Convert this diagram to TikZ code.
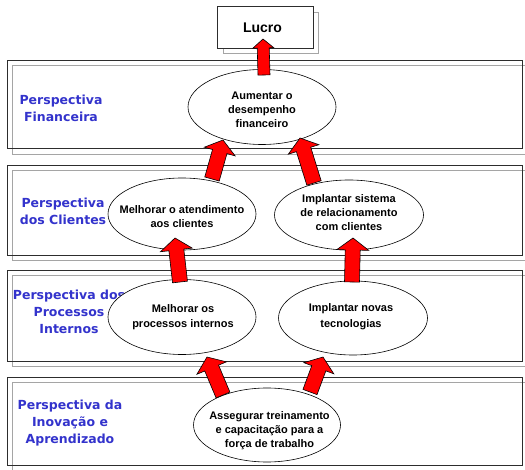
\documentclass[tikz,border=0pt]{standalone}
\usepackage{fontspec}
\setmainfont{Liberation Sans}
\newfontfamily\labelfont{DejaVu Sans}
\usetikzlibrary{shapes.geometric,calc}
\definecolor{perspblue}{RGB}{51,51,204}
\definecolor{shadowgray}{RGB}{165,165,165}
\definecolor{framedark}{RGB}{45,45,45}
\tikzset{
  fat/.style={fill=red, draw=black, line width=0.6pt, line join=miter},
  ell/.style={ellipse, draw=black, fill=white, line width=0.6pt, inner sep=0pt},
  etext/.style={font=\bfseries\fontsize{11}{14}\selectfont, align=center, inner sep=0pt},
  persp/.style={text=perspblue, font=\labelfont\bfseries\fontsize{12.5}{17}\selectfont, align=center, inner sep=0pt},
  bandfront/.style={rectangle, draw=framedark, line width=0.9pt, inner sep=0pt, minimum width=515pt},
  bandback/.style={draw=shadowgray, line width=0.8pt},
}
% #1 base, #2 tip, #3 half shaft width, #4 half head width, #5 head length
\newcommand{\fatarr}[5]{%
  \coordinate (fatN) at ($(#2)!#5!(#1)$);
  \draw[fat] ($(#1)!#3!90:(#2)$) -- ($(fatN)!#3!90:(#2)$) -- ($(fatN)!#4!90:(#2)$)
    -- (#2) -- ($(fatN)!#4!-90:(#2)$) -- ($(fatN)!#3!-90:(#2)$) -- ($(#1)!#3!-90:(#2)$) -- cycle;
}
\begin{document}
\begin{tikzpicture}[x=1pt,y=-1pt]
\useasboundingbox (0,0) rectangle (525,470);
\clip (0,0) rectangle (525,470);
\fill[white] (0,0) rectangle (525,470);
% shadow frames
\draw[bandback] (12,65) rectangle (527,154);
\draw[bandback] (12,170) rectangle (527,260);
\draw[bandback] (12,275) rectangle (527,366);
\draw[bandback] (12,382) rectangle (527,470.5);
\draw[bandback] (223,12) rectangle (318,53);
% front frames
\node[bandfront, minimum height=88pt] (b1) at (264.5,104) {};
\node[bandfront, minimum height=90pt] (b2) at (264.5,210) {};
\node[bandfront, minimum height=91pt] (b3) at (264.5,315.5) {};
\node[bandfront, minimum height=88pt] (b4) at (264.5,421) {};
\node[rectangle, draw=framedark, fill=white, line width=0.9pt, minimum width=96pt, minimum height=41.5pt, inner sep=0pt] (lucro) at (265,27.5) {};
\node[font=\bfseries\fontsize{14}{16}\selectfont, inner sep=0pt] (lucrot) at (262.5,27.5) {Lucro};
% perspective labels
\node[persp] (p1) at (61,108.5) {Perspectiva\\Financeira};
\node[persp] (p2) at (63,211.5) {Perspectiva\\dos Clientes};
\node[persp] (p3) at (69,312) {Perspectiva dos\\Processos\\Internos};
\node[persp] (p4) at (70,423.5) {Perspectiva da\\Inovação e\\Aprendizado};
% ellipses
\node[ell, minimum width=148pt, minimum height=75pt] (e1) at (262,107) {};
\node[ell, minimum width=148pt, minimum height=72pt] (e2) at (182,214) {};
\node[ell, minimum width=149pt, minimum height=70pt] (e3) at (349,215) {};
\node[ell, minimum width=148pt, minimum height=75pt] (e4) at (182,317) {};
\node[ell, minimum width=149pt, minimum height=74pt] (e5) at (353,318) {};
\node[ell, minimum width=147pt, minimum height=74pt] (e6) at (267,425) {};
\node[etext] (t1) at (262,110) {Aumentar o\\desempenho\\financeiro};
\node[etext] (t2) at (182,216.5) {Melhorar o atendimento\\aos clientes};
\node[etext] (t3) at (349,213) {Implantar sistema\\de relacionamento\\com clientes};
\node[etext, align=center] (t4) at (183,317) {Melhorar os\\[1.5pt]processos internos};
\node[etext, align=center] (t5) at (351,316.5) {Implantar novas\\[1.5pt]tecnologias};
\node[etext] (t6) at (269.5,431) {Assegurar treinamento\\e capacitação para a\\força de trabalho};
% arrow end points
\coordinate (a0s) at ($(e1.center)+(2,-32)$);
\coordinate (a0t) at ($(lucro.center)+(-2,11.5)$);
\coordinate (a1s) at ($(e2.center)+(30,-35)$);
\coordinate (a1t) at ($(e1.center)+(-39,33)$);
\coordinate (a2s) at ($(e3.center)+(-35,-32)$);
\coordinate (a2t) at ($(e1.center)+(38,31)$);
\coordinate (a3s) at ($(e4.center)+(-2,-35)$);
\coordinate (a3t) at ($(e2.center)+(-7,24)$);
\coordinate (a4s) at ($(e5.center)+(-1,-36)$);
\coordinate (a4t) at ($(e3.center)+(4,23)$);
\coordinate (a5s) at ($(e6.center)+(-44,-30)$);
\coordinate (a5t) at ($(e4.center)+(25,40)$);
\coordinate (a6s) at ($(e6.center)+(43,-33)$);
\coordinate (a6t) at ($(e5.center)+(-30,39)$);
% arrows
\fatarr{a0s}{a0t}{6pt}{10.5pt}{9pt}
\fatarr{a1s}{a1t}{7.5pt}{16pt}{12pt}
\fatarr{a2s}{a2t}{7.5pt}{16pt}{12pt}
\fatarr{a3s}{a3t}{7.5pt}{16pt}{12pt}
\fatarr{a4s}{a4t}{7.5pt}{16pt}{12pt}
\fatarr{a5s}{a5t}{7.5pt}{16pt}{12pt}
\fatarr{a6s}{a6t}{7.5pt}{16pt}{12pt}
\end{tikzpicture}
\end{document}
